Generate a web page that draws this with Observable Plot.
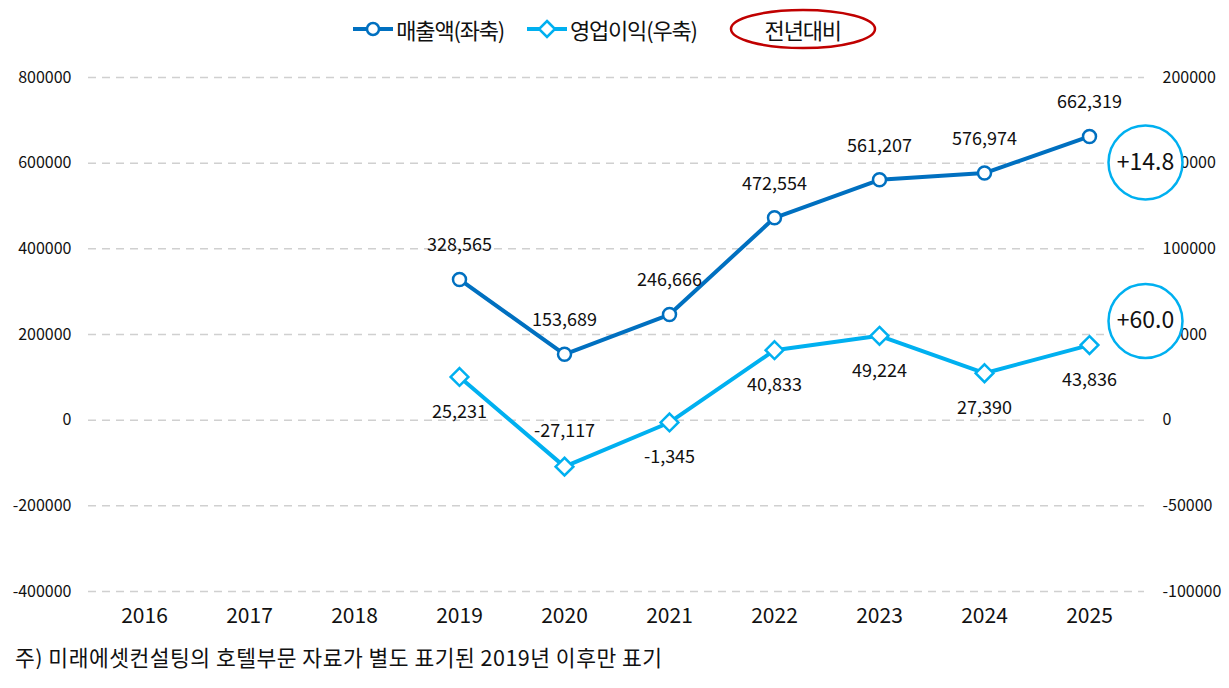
<!DOCTYPE html>
<html>
<head>
<meta charset="utf-8">
<script src="https://cdn.jsdelivr.net/npm/d3@7"></script>
<script src="https://cdn.jsdelivr.net/npm/@observablehq/plot@0.6"></script>
<style>
  body { margin: 0; background: #fff; font-family: "Noto Sans CJK KR", "Noto Sans", sans-serif; color: #111; }
  #legend { height: 55px; display: flex; align-items: center; justify-content: center; padding-top: 2px; box-sizing: border-box; font-size: 22px; letter-spacing: -1.2px; }
  .item { display: flex; align-items: center; margin: 0 8px; }
  .item svg { margin-right: 2px; }
  #caption { font-size: 21.5px; line-height: 24px; padding-left: 15px; letter-spacing: 0.5px; }
</style>
</head>
<body>
<div id="legend"></div>
<div id="chart"></div>
<div id="caption"></div>
<script>
const years = ["2016","2017","2018","2019","2020","2021","2022","2023","2024","2025"];
const dataYears = ["2019","2020","2021","2022","2023","2024","2025"];
const revenue = [328565,153689,246666,472554,561207,576974,662319];
const profit = [25231,-27117,-1345,40833,49224,27390,43836];
const leftTicks = [-400000,-200000,0,200000,400000,600000,800000];
const rightRatio = 4; // right axis = left axis / 4
const yoyLabels = ["+14.8","+60.0"];
const seriesNames = ["매출액(좌축)","영업이익(우축)"];
const yoyTitle = "전년대비";
const profitLabelAboveYears = ["2020"];
const captionText = "주) 미래에셋컨설팅의 호텔부문 자료가 별도 표기된 2019년 이후만 표기";

const revColor = "#0070c0";
const profColor = "#00b0f0";

const rev = dataYears.map((y,i) => ({year:y, v:revenue[i]}));
const prof = dataYears.map((y,i) => ({year:y, v:profit[i], yv:profit[i]*rightRatio}));
const fmt = v => v.toLocaleString("en-US");

// Legend
const legend = document.getElementById("legend");
legend.innerHTML = `
  <div class="item"><svg width="42" height="20"><line x1="1" x2="41" y1="10" y2="10" stroke="${revColor}" stroke-width="4"/><circle cx="21" cy="10" r="6" fill="#fff" stroke="${revColor}" stroke-width="2.5"/></svg><span>${seriesNames[0]}</span></div>
  <div class="item" style="margin-left:14px"><svg width="42" height="20"><line x1="1" x2="41" y1="10" y2="10" stroke="${profColor}" stroke-width="4"/><path d="M21,2 L29,10 L21,18 L13,10 Z" fill="#fff" stroke="${profColor}" stroke-width="2.5"/></svg><span>${seriesNames[1]}</span></div>
  <div class="item" style="margin-left:24px;position:relative;width:148px;height:42px;justify-content:center"><svg width="148" height="42" style="position:absolute;left:0;top:0"><ellipse cx="74" cy="21" rx="72" ry="19" fill="none" stroke="#c00000" stroke-width="2.5"/></svg><span style="position:relative">${yoyTitle}</span></div>
`;

const last = rev.length - 1;
const chart = Plot.plot({
  width: 1229,
  height: 590,
  marginLeft: 88,
  marginRight: 85,
  marginTop: 22,
  marginBottom: 54,
  style: {fontFamily: '"Noto Sans CJK KR", "Noto Sans", sans-serif', background: "#fff", color: "#111"},
  x: {type: "point", domain: years, padding: 0.5, axis: null},
  y: {domain: [-400000, 800000], axis: null},
  marks: [
    Plot.gridY(leftTicks, {stroke: "#d0d0d0", strokeOpacity: 1, strokeWidth: 1.5, strokeDasharray: "8,6"}),
    Plot.axisY({anchor: "left", ticks: leftTicks, tickSize: 0, tickPadding: 17, tickFormat: d => String(d), fontSize: 16, fill: "#111", label: null, style: "letter-spacing:-1.2px"}),
    Plot.axisY({anchor: "right", ticks: leftTicks, tickSize: 0, tickPadding: 18, tickFormat: d => String(d / rightRatio), fontSize: 16, fill: "#111", label: null, style: "letter-spacing:-1.2px"}),
    Plot.axisX({tickSize: 0, tickPadding: 17, fontSize: 21, fill: "#111", label: null, style: "letter-spacing:-0.8px;font-weight:500"}),
    Plot.line(rev, {x: "year", y: "v", stroke: revColor, strokeWidth: 4}),
    Plot.line(prof, {x: "year", y: "yv", stroke: profColor, strokeWidth: 4}),
    Plot.dot(rev, {x: "year", y: "v", r: 6.5, fill: "#fff", stroke: revColor, strokeWidth: 2.5}),
    Plot.dot(prof, {x: "year", y: "yv", r: 8, symbol: "diamond2", fill: "#fff", stroke: profColor, strokeWidth: 2.5}),
    Plot.text(rev, {x: "year", y: "v", text: d => fmt(d.v), dy: -34, fontSize: 18, fill: "#111", style: "letter-spacing:-1px"}),
    Plot.text(prof.filter(d => !profitLabelAboveYears.includes(d.year)), {x: "year", y: "yv", text: d => fmt(d.v), dy: 35, fontSize: 18, fill: "#111", style: "letter-spacing:-1px"}),
    Plot.text(prof.filter(d => profitLabelAboveYears.includes(d.year)), {x: "year", y: "yv", text: d => fmt(d.v), dy: -35, fontSize: 18, fill: "#111", style: "letter-spacing:-1px"}),
    Plot.dot([rev[last]], {x: "year", y: "v", dx: 56, dy: 26, r: 37, fill: "#fff", stroke: profColor, strokeWidth: 2.5}),
    Plot.text([rev[last]], {x: "year", y: "v", dx: 56, dy: 26, text: () => yoyLabels[0], fontSize: 23, fill: "#111", style: "letter-spacing:-1px"}),
    Plot.dot([prof[last]], {x: "year", y: "yv", dx: 56, dy: -24, r: 37, fill: "#fff", stroke: profColor, strokeWidth: 2.5}),
    Plot.text([prof[last]], {x: "year", y: "yv", dx: 56, dy: -24, text: () => yoyLabels[1], fontSize: 23, fill: "#111", style: "letter-spacing:-1px"})
  ]
});
document.getElementById("chart").appendChild(chart);
document.getElementById("caption").textContent = captionText;
</script>
</body>
</html>
